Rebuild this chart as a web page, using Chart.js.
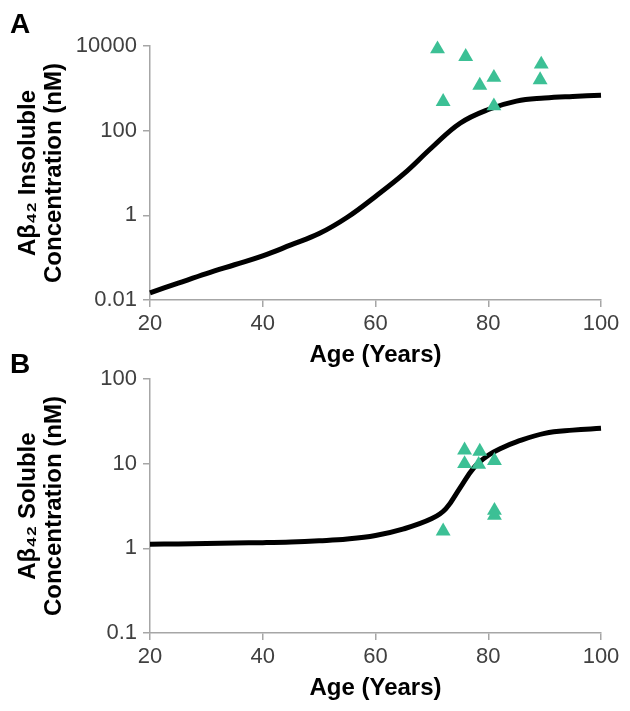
<!DOCTYPE html>
<html>
<head>
<meta charset="utf-8">
<script src="https://cdn.jsdelivr.net/npm/chart.js@4.4.1/dist/chart.umd.min.js"></script>
<style>
  html, body { margin: 0; padding: 0; background: #ffffff; }
  #wrap { position: relative; width: 630px; height: 711px; overflow: hidden; background: #fff; }
  canvas { position: absolute; left: 0; }
  #cA { top: 0; }
  #cB { top: 360px; }
  .lbl { position: absolute; font-family: "Liberation Sans", Arial, sans-serif; font-weight: bold; font-size: 28px; line-height: 28px; color: #000; }
</style>
</head>
<body>
<div id="wrap">
  <canvas id="cA" width="630" height="380"></canvas>
  <canvas id="cB" width="630" height="351"></canvas>
  <div class="lbl" style="left:10px; top:10px;">A</div>
  <div class="lbl" style="left:10px; top:350px;">B</div>
</div>
<script>
// ---- Data ----
const curveAges = [20, 25, 30, 35, 40, 45, 50, 55, 60, 65, 70, 75, 80, 85, 90, 95, 100];
const insolubleModel = [0.0148, 0.025, 0.042, 0.068, 0.11, 0.20, 0.37, 0.90, 2.8, 9.5, 40, 150, 316, 500, 590, 645, 690];

const curveAgesB = [20, 25, 30, 35, 40, 45, 50, 55, 60, 65, 70, 72.5, 75, 77.5, 80, 82.5, 85, 90, 95, 100];
const solubleModel = [1.12, 1.13, 1.14, 1.16, 1.17, 1.19, 1.23, 1.29, 1.42, 1.7, 2.25, 2.95, 5.2, 9.1, 12.6, 15.5, 18.2, 22.9, 25, 26.3];

const insolubleObsAge = [71, 76, 81, 78.5, 72, 81, 89.4, 89.2];
const insolubleObs = [8500, 5600, 1800, 1170, 484, 383, 3700, 1580];

const solubleObsAge = [72, 75.8, 75.8, 78.5, 78.3, 81.1, 81.1, 81.1];
const solubleObs = [1.6, 14.5, 10, 14, 9.8, 10.9, 2.8, 2.46];

const xTicks = [20, 40, 60, 80, 100];
const yTicksA = [0.01, 1, 100, 10000];
const yTicksB = [0.1, 1, 10, 100];

const titleA = ["A\u03B2\u2084\u2082 Insoluble", "Concentration (nM)"];
const titleB = ["A\u03B2\u2084\u2082 Soluble", "Concentration (nM)"];
const xTitle = "Age (Years)";

// ---- Styling ----
const FONT = '"Liberation Sans", Arial, sans-serif';
const AXIS = '#a6a6a6';
const TICKCOL = '#404040';
const GREEN = '#3cc095';

function pairs(xs, ys) { return xs.map((x, i) => ({ x: x, y: ys[i] })); }

function makeChart(id, cfg) {
  return new Chart(document.getElementById(id), {
    type: 'scatter',
    data: {
      datasets: [
        {
          data: pairs(cfg.obsX, cfg.obsY),
          showLine: false,
          pointStyle: 'triangle',
          pointRadius: 8.6,
          pointHoverRadius: 8.6,
          backgroundColor: GREEN,
          borderWidth: 0,
          clip: false,
          order: 0
        },
        {
          data: pairs(cfg.curveX, cfg.curveY),
          showLine: true,
          borderColor: '#000000',
          borderWidth: 5,
          pointRadius: 0,
          pointHoverRadius: 0,
          tension: 0.4,
          fill: false,
          clip: false,
          order: 1
        }
      ]
    },
    options: {
      responsive: false,
      animation: false,
      devicePixelRatio: 1,
      layout: { padding: { left: 0, right: 29, top: cfg.top, bottom: 0 } },
      plugins: { legend: { display: false }, tooltip: { enabled: false }, title: { display: false } },
      scales: {
        x: {
          type: 'linear',
          min: 20, max: 100,
          afterBuildTicks: (s) => { s.ticks = xTicks.map(v => ({ value: v })); },
          afterFit: (s) => { s.height = cfg.xh; },
          ticks: { font: { family: FONT, size: 22 }, color: TICKCOL, padding: 4, maxRotation: 0, autoSkip: false },
          grid: { drawOnChartArea: false, drawTicks: true, tickLength: 7, color: AXIS, lineWidth: 1.5 },
          border: { display: true, color: AXIS, width: 1.5 },
          title: { display: true, text: xTitle, font: { family: FONT, size: 24, weight: 'bold' }, color: '#000', padding: { top: 0, bottom: cfg.xtPad } }
        },
        y: {
          type: 'logarithmic',
          min: cfg.ymin, max: cfg.ymax,
          afterBuildTicks: (s) => { s.ticks = cfg.yTicks.map(v => ({ value: v })); },
          afterFit: (s) => { s.width = 150; },
          ticks: { font: { family: FONT, size: 22 }, color: TICKCOL, padding: 6, autoSkip: false,
                   callback: (v) => String(v) },
          grid: { drawOnChartArea: false, drawTicks: true, tickLength: 7, color: AXIS, lineWidth: 1.5 },
          border: { display: true, color: AXIS, width: 1.5 },
          title: { display: true, text: cfg.yTitle, font: { family: FONT, size: 24, weight: 'bold', lineHeight: 1.1 }, color: '#000', padding: { top: 15, bottom: 0 } }
        }
      }
    }
  });
}

makeChart('cA', {
  obsX: insolubleObsAge, obsY: insolubleObs,
  curveX: curveAges, curveY: insolubleModel,
  top: 46, xh: 80, xtPad: 10,
  ymin: 0.01, ymax: 10000, yTicks: yTicksA, yTitle: titleA
});

makeChart('cB', {
  obsX: solubleObsAge, obsY: solubleObs,
  curveX: curveAgesB, curveY: solubleModel,
  top: 17, xh: 78, xtPad: 8,
  ymin: 0.1, ymax: 100, yTicks: yTicksB, yTitle: titleB
});
</script>
</body>
</html>
